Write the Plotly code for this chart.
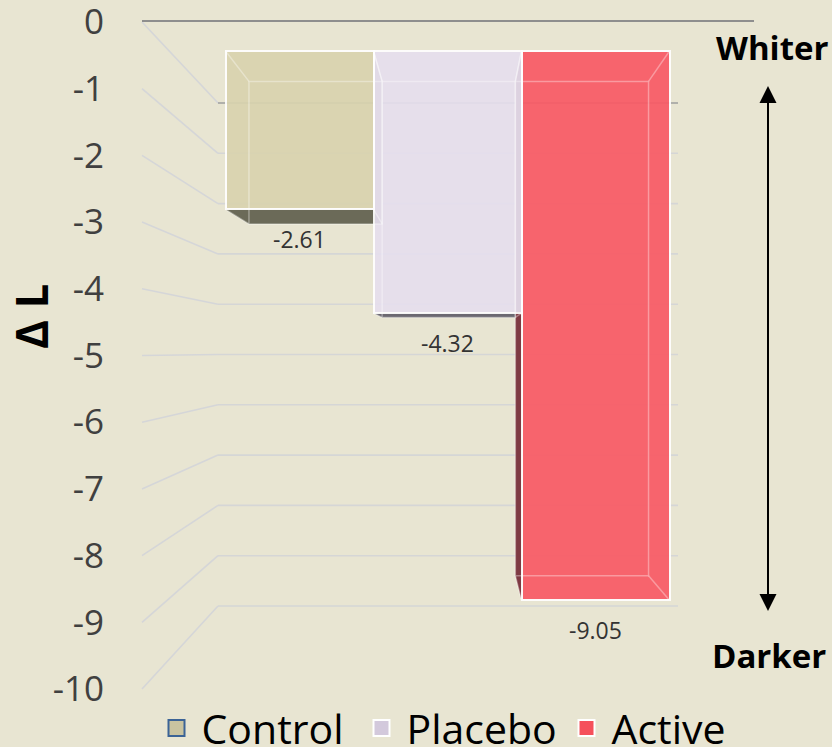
import plotly.graph_objects as go

# ---------------- data ----------------
groups = ["Control", "Placebo", "Active"]
delta_L = [-2.61, -4.32, -9.05]
tick_vals = [0, -1, -2, -3, -4, -5, -6, -7, -8, -9, -10]
tick_text = ["0", "-1", "-2", "-3", "-4", "-5", "-6", "-7", "-8", "-9", "-10"]

# ---------------- style ----------------
front_colors = {"Control": "#D9D3AF", "Placebo": "#E6DFEE", "Active": "#F95A65"}
legend_fill = {"Control": "#C9C3A0", "Placebo": "#D3C9DC", "Active": "#F5505B"}
legend_line = {"Control": "#3B6396", "Placebo": "#FFFFFF", "Active": "#FFFFFF"}
bottom_face = {"Control": "#6B6A58", "Placebo": "#6C6971", "Active": "#8A3A42"}
side_face = {"Control": "#A9A48C", "Placebo": "#B9B2C2", "Active": "#7E3A43"}
BG = "#E8E5D2"
FONT = "Open Sans"

W, H = 832, 747
ML = 105                    # left margin (tick labels live there)
PW = W - ML                 # plot width in px

# pseudo-3D geometry (pixels)
FRONT_ZERO, FRONT_UNIT = 51, 60.7     # front face of the bars
LABEL_ZERO, LABEL_UNIT = 22, 66.7     # tick-label scale (front edge of walls)
BACK_ZERO, BACK_UNIT = 103, 50.3      # back wall gridlines
BAR0_CENTER, BAR_W = 299.5, 148
VP_X, VP_Y, DEPTH_K = 460, 355, 0.9   # perspective centre for bar depth
WALL_X0, WALL_X1, WALL_RIGHT = 142, 218, 678


def px(xp):
    return (xp - ML) / PW


def py(yp):
    return 1 - yp / H


def back(xp, yp):
    return VP_X + DEPTH_K * (xp - VP_X), VP_Y + DEPTH_K * (yp - VP_Y)


def path(points, close=True):
    s = "M " + " L ".join(f"{px(a):.5f},{py(b):.5f}" for a, b in points)
    return s + (" Z" if close else "")


fig = go.Figure()

for g, v in zip(groups, delta_L):
    fig.add_trace(go.Bar(
        x=[g], y=[v], name=g, width=1,
        marker=dict(color=front_colors[g], line=dict(color="white", width=2)),
        opacity=0.92, hoverinfo="x+y", showlegend=False,
    ))

# legend entries (square swatches)
for g in groups:
    fig.add_trace(go.Scatter(
        x=[None], y=[None], name=g, mode="markers",
        marker=dict(symbol="square", size=16, color=legend_fill[g],
                    line=dict(color=legend_line[g], width=2)),
        showlegend=True, hoverinfo="skip",
    ))

shapes = []
# walls / gridlines
for v in tick_vals:
    yl = LABEL_ZERO - LABEL_UNIT * v
    yb = BACK_ZERO - BACK_UNIT * v
    shapes.append(dict(type="path", xref="paper", yref="paper", layer="below",
                       path=path([(WALL_X0, yl), (WALL_X1, yb)], close=False),
                       line=dict(color="#D5D6D8", width=1.6)))
    shapes.append(dict(type="path", xref="paper", yref="paper", layer="below",
                       path=path([(WALL_X1, yb), (WALL_RIGHT, yb)], close=False),
                       line=dict(color="#9E9E9E" if v == 0 else "#D5D6D6", width=1.6)))
shapes.append(dict(type="path", xref="paper", yref="paper", layer="below",
                   path=path([(WALL_X0, LABEL_ZERO - 1), (754, LABEL_ZERO - 1)], close=False),
                   line=dict(color="#8E8E8E", width=2.2)))

# bar depth faces and edges
for i, (g, v) in enumerate(zip(groups, delta_L)):
    cx = BAR0_CENTER + BAR_W * i
    x0, x1 = cx - BAR_W / 2, cx + BAR_W / 2
    y0, y1 = FRONT_ZERO, FRONT_ZERO - FRONT_UNIT * v
    fr = [(x0, y0), (x1, y0), (x1, y1), (x0, y1)]
    bk = [back(a, b) for a, b in fr]
    if y1 < VP_Y:   # bottom face visible
        shapes.append(dict(type="path", xref="paper", yref="paper", layer="below",
                           path=path([fr[3], fr[2], bk[2], bk[3]]),
                           fillcolor=bottom_face[g], line=dict(width=0)))
    if x1 < VP_X:   # right face visible (behind neighbour)
        shapes.append(dict(type="path", xref="paper", yref="paper", layer="below",
                           path=path([fr[1], fr[2], bk[2], bk[1]]),
                           fillcolor=side_face[g], line=dict(width=0)))
    if x0 > VP_X:   # left face visible
        shapes.append(dict(type="path", xref="paper", yref="paper", layer="below",
                           path=path([fr[0], fr[3], bk[3], bk[0]]),
                           fillcolor=side_face[g], line=dict(width=0)))
    edge = dict(color="rgba(255,255,255,0.35)", width=1.5)
    shapes.append(dict(type="path", xref="paper", yref="paper", layer="above",
                       path=path(bk), line=edge))
    for (a, b), (c, d) in zip(fr, bk):
        shapes.append(dict(type="line", xref="paper", yref="paper", layer="above",
                           x0=px(a), y0=py(b), x1=px(c), y1=py(d), line=edge))

annotations = []
for g, v in zip(groups, delta_L):
    annotations.append(dict(x=g, y=v, xref="x", yref="y", text=f"{v:.2f}",
                            showarrow=False, yshift=-30, xanchor="center", yanchor="middle",
                            font=dict(family=FONT, size=23, color="#333333")))

annotations += [
    dict(x=px(31), y=py(317), xref="paper", yref="paper", text="<b>Δ L</b>",
         textangle=-90, showarrow=False, xanchor="center", yanchor="middle",
         font=dict(family=FONT, size=44, color="black")),
    dict(x=px(772), y=py(47), xref="paper", yref="paper", text="<b>Whiter</b>",
         showarrow=False, xanchor="center", yanchor="middle",
         font=dict(family=FONT, size=33, color="black")),
    dict(x=px(769), y=py(655), xref="paper", yref="paper", text="<b>Darker</b>",
         showarrow=False, xanchor="center", yanchor="middle",
         font=dict(family=FONT, size=33, color="black")),
    dict(x=px(768), y=py(86), xref="paper", yref="paper", text="", showarrow=True,
         ax=0, ay=274, arrowhead=2, arrowsize=1.7, arrowwidth=2, arrowcolor="black", standoff=0),
    dict(x=px(768), y=py(611), xref="paper", yref="paper", text="", showarrow=True,
         ax=0, ay=-271, arrowhead=2, arrowsize=1.7, arrowwidth=2, arrowcolor="black", standoff=0),
]

fig.update_layout(
    width=W, height=H,
    margin=dict(l=ML, r=0, t=0, b=0, autoexpand=False),
    paper_bgcolor=BG, plot_bgcolor=BG,
    barmode="overlay", bargap=0,
    font=dict(family=FONT, color="#404040"),
    xaxis=dict(type="category", categoryorder="array", categoryarray=groups,
               range=[(ML - BAR0_CENTER) / BAR_W, (W - BAR0_CENTER) / BAR_W],
               visible=False, fixedrange=True),
    yaxis=dict(range=[-(H - FRONT_ZERO) / FRONT_UNIT, FRONT_ZERO / FRONT_UNIT],
               visible=False, fixedrange=True),
    yaxis2=dict(overlaying="y", side="left",
                range=[-(H - LABEL_ZERO) / LABEL_UNIT, LABEL_ZERO / LABEL_UNIT],
                tickvals=tick_vals, ticktext=tick_text, showgrid=False, zeroline=False,
                showline=False, ticks="", ticklabeloverflow="allow",
                tickfont=dict(family=FONT, size=35, color="#404040"),
                fixedrange=True),
    showlegend=True,
    legend=dict(orientation="h", x=px(459), xanchor="center", y=-0.02, yanchor="bottom",
                font=dict(family=FONT, size=41, color="black"), bgcolor="rgba(0,0,0,0)",
                traceorder="normal", itemwidth=40, entrywidth=150),
    shapes=shapes, annotations=annotations,
)
# invisible trace so yaxis2 renders its ticks
fig.add_trace(go.Scatter(x=[groups[0]], y=[0], yaxis="y2", mode="markers",
                         marker=dict(opacity=0), showlegend=False, hoverinfo="skip"))

fig.write_html("out.html", config={"displayModeBar": False},
               post_script="document.body.style.margin='0';"
                           "document.body.style.background='" + BG + "';")
